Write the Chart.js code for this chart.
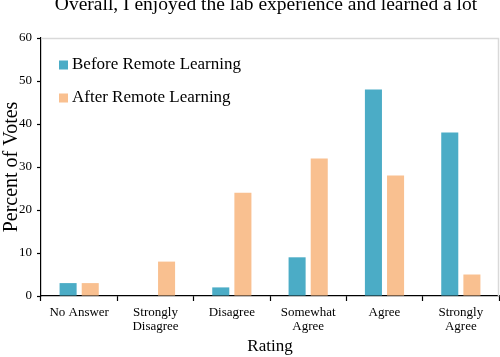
<!DOCTYPE html>
<html>
<head>
<meta charset="utf-8">
<script src="https://cdn.jsdelivr.net/npm/chart.js@4/dist/chart.umd.min.js"></script>
<style>
html,body{margin:0;padding:0;background:#fff;}
#wrap{width:500px;height:357px;position:relative;}
</style>
</head>
<body>
<div id="wrap"><canvas id="c" width="500" height="357"></canvas></div>
<script>
const chartTitle = "Overall, I enjoyed the lab experience and learned a lot";
const categories = [["No Answer"], ["Strongly", "Disagree"], ["Disagree"], ["Somewhat", "Agree"], ["Agree"], ["Strongly", "Agree"]];
const seriesNames = ["Before Remote Learning", "After Remote Learning"];
const beforeValues = [3, 0, 2, 9, 48, 38];
const afterValues = [3, 8, 24, 32, 28, 5];
const yTicks = [0, 10, 20, 30, 40, 50, 60];
const xAxisTitle = "Rating";
const yAxisTitle = "Percent of Votes";

const SERIF = "'Liberation Serif', 'DejaVu Serif', serif";
const colors = ["#4bacc6", "#f9c090"];

const framePlugin = {
  id: 'frame',
  beforeDatasetsDraw(chart) {
    const {ctx, chartArea: a} = chart;
    ctx.save();
    ctx.strokeStyle = '#d9d9d9';
    ctx.lineWidth = 1.5;
    ctx.beginPath();
    ctx.moveTo(a.left, a.top + 0.5);
    ctx.lineTo(a.right - 0.5, a.top + 0.5);
    ctx.lineTo(a.right - 0.5, a.bottom);
    ctx.stroke();
    ctx.restore();
  },
  afterDraw(chart) {
    const {ctx, chartArea: a} = chart;
    ctx.save();
    // title
    ctx.fillStyle = '#000';
    ctx.font = "19.5px " + SERIF;
    ctx.textAlign = 'center';
    ctx.textBaseline = 'alphabetic';
    ctx.fillText(chartTitle, 266, 10);
    // legend
    ctx.font = "17px " + SERIF;
    ctx.textAlign = 'left';
    ctx.textBaseline = 'middle';
    chart.data.datasets.forEach((ds, i) => {
      const y = 65 + i * 33;
      ctx.fillStyle = ds.backgroundColor;
      ctx.fillRect(59, y - 4.5, 9, 9);
      ctx.fillStyle = '#000';
      ctx.fillText(ds.label, 72, y);
    });
    ctx.restore();
  }
};

new Chart(document.getElementById('c'), {
  type: 'bar',
  data: {
    labels: categories,
    datasets: [
      {label: seriesNames[0], data: beforeValues, backgroundColor: colors[0]},
      {label: seriesNames[1], data: afterValues, backgroundColor: colors[1]}
    ]
  },
  options: {
    responsive: false,
    animation: false,
    devicePixelRatio: 1,
    categoryPercentage: 0.58,
    barPercentage: 0.77,
    layout: {padding: {top: 38, right: 1, left: 0, bottom: 0}},
    plugins: {legend: {display: false}, title: {display: false}, tooltip: {enabled: false}},
    scales: {
      x: {
        grid: {offset: true, drawOnChartArea: false, drawTicks: true, tickLength: 5, tickColor: '#000', tickWidth: 1.2},
        border: {color: '#000', width: 1.2},
        ticks: {color: '#000', font: {family: SERIF, size: 13, lineHeight: 1.08}, padding: 5, maxRotation: 0, autoSkip: false},
        title: {display: true, text: xAxisTitle, color: '#000', font: {family: SERIF, size: 17}, padding: {top: 0, bottom: 0}},
        afterFit(s) { s.height = 61; }
      },
      y: {
        min: 0, max: 60,
        afterBuildTicks(s) { s.ticks = yTicks.map(v => ({value: v})); },
        grid: {drawOnChartArea: false, drawTicks: true, tickLength: 4, tickColor: '#000', tickWidth: 1.2},
        border: {color: '#000', width: 1.2},
        ticks: {color: '#000', font: {family: SERIF, size: 13}, padding: 5},
        title: {display: true, text: yAxisTitle, color: '#000', font: {family: SERIF, size: 20}, padding: {top: 0, bottom: 0}},
        afterFit(s) { s.width = 41; }
      }
    }
  },
  plugins: [framePlugin]
});
</script>
</body>
</html>
